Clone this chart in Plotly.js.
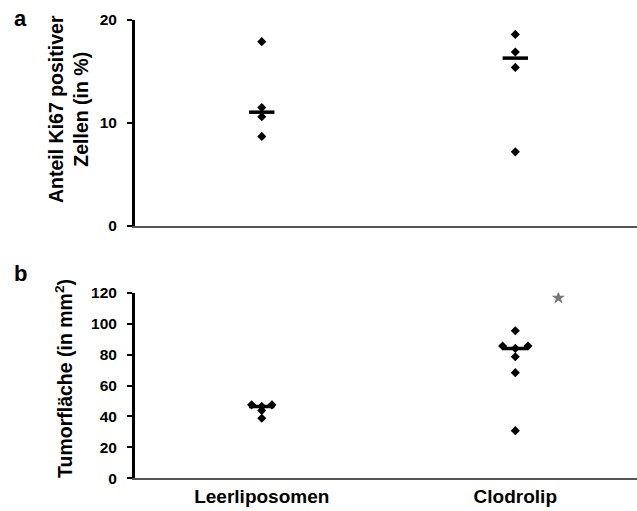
<!DOCTYPE html>
<html><head><meta charset="utf-8">
<script src="https://cdn.plot.ly/plotly-3.0.1.min.js"></script>
<style>html,body{margin:0;padding:0;background:#fff}#chart{width:637px;height:511px}</style>
</head><body><div id="chart"></div>
<script>
// Categories
const categories = ["Leerliposomen", "Clodrolip"];
const catPos = [1, 2];

// Panel a: Anteil Ki67 positiver Zellen (in %)
const aLeerX = [1, 1, 1, 1];
const aLeerY = [17.9, 11.5, 10.6, 8.7];
const aClodX = [2, 2, 2, 2];
const aClodY = [18.6, 16.9, 15.4, 7.2];
const aMedians = [11.05, 16.3];

// Panel b: Tumorfläche (in mm²)
const bLeerX = [0.96, 1.04, 1, 1, 1];
const bLeerY = [47.5, 47.5, 46.5, 43.8, 38.8];
const bClodX = [2, 1.95, 2.05, 2, 2, 2, 2];
const bClodY = [95.4, 85.5, 85.5, 84, 78.6, 68.3, 30.8];
const bMedians = [46.5, 84];
const starX = [2.17];
const starY = [116.7];

const aTicks = [0, 10, 20];
const bTicks = [0, 20, 40, 60, 80, 100, 120];

const font = {family: "Liberation Sans, Arial, sans-serif", color: "#000"};
const mk = {symbol: "diamond", size: 7, color: "#000"};
const halfBar = 0.05;

function medianTraces(meds, xa, ya) {
  return meds.map((m, i) => ({
    x: [catPos[i] - halfBar, catPos[i] + halfBar], y: [m, m],
    mode: "lines", line: {color: "#000", width: 3.5},
    xaxis: xa, yaxis: ya, hoverinfo: "skip"
  }));
}

const traces = [
  {x: aLeerX, y: aLeerY, mode: "markers", marker: mk, xaxis: "x", yaxis: "y"},
  {x: aClodX, y: aClodY, mode: "markers", marker: mk, xaxis: "x", yaxis: "y"},
  ...medianTraces(aMedians, "x", "y"),
  {x: bLeerX, y: bLeerY, mode: "markers", marker: mk, xaxis: "x2", yaxis: "y2"},
  {x: bClodX, y: bClodY, mode: "markers", marker: mk, xaxis: "x2", yaxis: "y2"},
  ...medianTraces(bMedians, "x2", "y2"),
  {x: starX, y: starY, mode: "markers", marker: {symbol: "star", size: 10, color: "#777"}, xaxis: "x2", yaxis: "y2"}
];

const W = 637, H = 511;
const xDom = [135 / W, 1];
const aDom = [(H - 226) / H, (H - 20) / H];
const bDom = [(H - 478.3) / H, (H - 292.7) / H];

const xCommon = {
  range: [0.5, 2.48], showgrid: false, zeroline: false,
  showline: true, linecolor: "#555", linewidth: 2, domain: xDom
};
const yCommon = {
  showgrid: false, zeroline: false, showline: true, linecolor: "#000", linewidth: 3,
  ticks: "outside", ticklen: 5, tickwidth: 2, tickcolor: "#000", ticklabelstandoff: 7,
  tickfont: Object.assign({size: 15.5, weight: "bold"}, font)
};

const layout = {
  width: W, height: H, showlegend: false,
  margin: {l: 0, r: 0, t: 0, b: 0},
  paper_bgcolor: "#fff", plot_bgcolor: "#fff",
  xaxis: Object.assign({}, xCommon, {anchor: "y", showticklabels: false, ticks: ""}),
  yaxis: Object.assign({}, yCommon, {domain: aDom, range: [0, 20], tickvals: aTicks, anchor: "x"}),
  xaxis2: Object.assign({}, xCommon, {
    anchor: "y2", tickvals: catPos, ticktext: categories,
    ticks: "", ticklabelstandoff: 0,
    tickfont: Object.assign({size: 19, weight: "bold"}, font)
  }),
  yaxis2: Object.assign({}, yCommon, {domain: bDom, range: [0, 120], tickvals: bTicks, anchor: "x2"}),
  annotations: [
    {text: "a", x: 20 / W, y: 1 - 18 / H, xref: "paper", yref: "paper", showarrow: false,
     font: Object.assign({size: 22, weight: "bold"}, font), xanchor: "center", yanchor: "middle"},
    {text: "b", x: 20 / W, y: 1 - 273 / H, xref: "paper", yref: "paper", showarrow: false,
     font: Object.assign({size: 22, weight: "bold"}, font), xanchor: "center", yanchor: "middle"},
    {text: "Anteil Ki67 positiver<br>Zellen (in %)", x: 69 / W, y: 1 - 109 / H, xref: "paper", yref: "paper",
     showarrow: false, textangle: -90, font: Object.assign({size: 19.5, weight: "bold"}, font),
     xanchor: "center", yanchor: "middle"},
    {text: "Tumorfläche (in mm<sup>2</sup>)", x: 64 / W, y: 1 - 379 / H, xref: "paper", yref: "paper",
     showarrow: false, textangle: -90, font: Object.assign({size: 19.5, weight: "bold"}, font),
     xanchor: "center", yanchor: "middle"}
  ]
};

Plotly.newPlot("chart", traces, layout, {displayModeBar: false, staticPlot: true});
</script></body></html>
